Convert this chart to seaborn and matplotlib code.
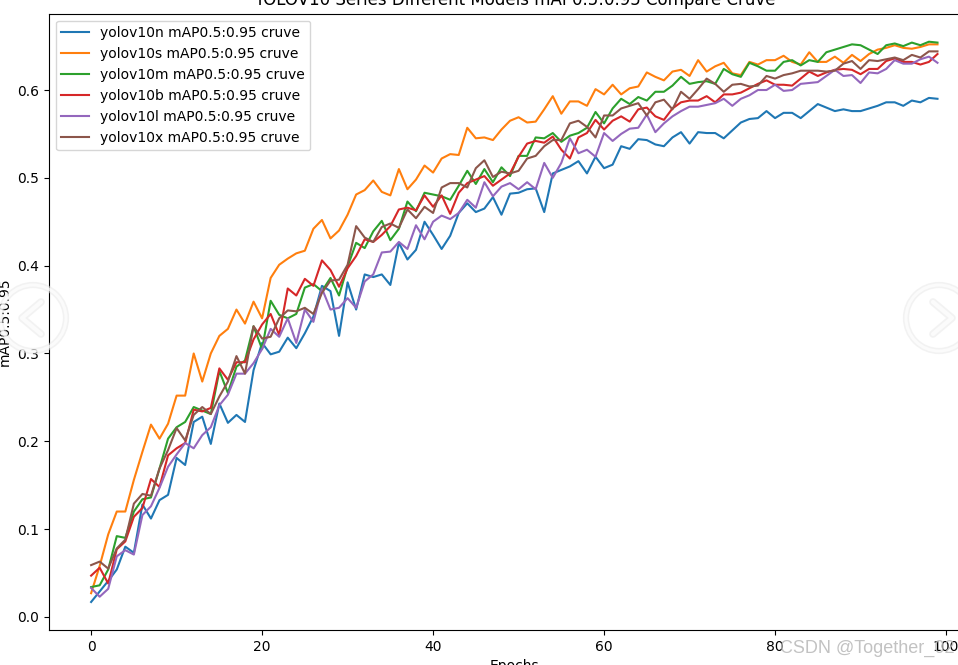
import numpy as np
import matplotlib
matplotlib.use("Agg")
import matplotlib.pyplot as plt
from matplotlib.lines import Line2D
from matplotlib.patches import Circle
import seaborn as sns

yolov10n = [.017, .029, .041, .054, .08, .073, .128, .112, .133, .139,
            .181, .173, .222, .228, .197, .243, .221, .23, .222, .281,
            .312, .299, .302, .318, .306, .323, .342, .377, .371, .32,
            .381, .35, .39, .387, .39, .378, .426, .407, .418, .45,
            .435, .419, .434, .46, .471, .461, .465, .478, .458, .482,
            .483, .487, .488, .461, .505, .509, .513, .519, .505, .524,
            .511, .515, .536, .533, .544, .543, .538, .536, .546, .552,
            .539, .552, .551, .551, .545, .554, .563, .567, .568, .576,
            .568, .574, .574, .568, .576, .584, .58, .576, .578, .576,
            .576, .579, .582, .586, .586, .582, .588, .586, .591, .59]
yolov10s = [.027, .058, .094, .12, .12, .156, .188, .219, .203, .22,
            .252, .252, .30, .268, .30, .32, .328, .35, .334, .359,
            .34, .386, .401, .408, .414, .417, .442, .452, .431, .44,
            .458, .481, .486, .497, .484, .48, .51, .487, .498, .514,
            .506, .522, .527, .526, .557, .545, .546, .543, .555, .565,
            .569, .563, .564, .578, .593, .573, .587, .587, .582, .601,
            .595, .606, .595, .602, .604, .62, .615, .611, .621, .623,
            .616, .634, .621, .627, .631, .619, .617, .632, .629, .634,
            .634, .639, .632, .629, .643, .632, .632, .638, .631, .64,
            .633, .641, .646, .648, .651, .648, .647, .649, .652, .652]
yolov10m = [.034, .036, .054, .092, .09, .12, .134, .136, .169, .203,
            .216, .222, .239, .235, .231, .28, .255, .285, .292, .331,
            .305, .36, .344, .34, .345, .375, .379, .371, .386, .366,
            .399, .426, .42, .439, .451, .429, .442, .473, .462, .483,
            .481, .479, .475, .491, .508, .493, .51, .495, .512, .502,
            .525, .525, .546, .545, .551, .541, .548, .551, .557, .575,
            .562, .579, .59, .584, .592, .588, .598, .598, .605, .615,
            .607, .609, .61, .607, .624, .618, .615, .631, .627, .622,
            .622, .632, .634, .628, .634, .632, .643, .646, .649, .652,
            .651, .646, .641, .651, .653, .65, .654, .651, .655, .654]
yolov10b = [.047, .056, .038, .077, .086, .114, .124, .157, .148, .184,
            .192, .198, .236, .234, .238, .283, .27, .29, .29, .316,
            .333, .345, .321, .374, .366, .385, .377, .406, .395, .376,
            .397, .411, .43, .427, .435, .445, .464, .466, .463, .48,
            .467, .48, .459, .483, .494, .498, .502, .491, .498, .505,
            .524, .539, .542, .54, .547, .532, .522, .546, .551, .566,
            .555, .565, .57, .564, .578, .58, .57, .566, .579, .586,
            .588, .588, .593, .586, .595, .595, .597, .602, .607, .611,
            .606, .606, .605, .613, .621, .616, .62, .623, .624, .623,
            .618, .624, .624, .633, .636, .632, .632, .629, .632, .641]
yolov10l = [.033, .023, .032, .069, .076, .071, .116, .126, .147, .171,
            .185, .198, .192, .207, .216, .241, .253, .277, .277, .289,
            .305, .328, .319, .34, .312, .35, .336, .374, .35, .352,
            .363, .352, .382, .39, .415, .416, .427, .419, .446, .43,
            .45, .457, .453, .46, .475, .466, .495, .479, .49, .494,
            .487, .495, .487, .517, .5, .517, .545, .528, .532, .524,
            .551, .542, .55, .556, .557, .572, .552, .562, .57, .576,
            .581, .581, .583, .585, .59, .582, .59, .594, .6, .6,
            .606, .599, .6, .607, .608, .609, .616, .623, .616, .617,
            .608, .62, .619, .624, .634, .63, .63, .635, .638, .631]
yolov10x = [.059, .063, .055, .078, .088, .129, .14, .138, .169, .19,
            .215, .201, .23, .239, .231, .251, .268, .297, .277, .331,
            .317, .319, .34, .349, .348, .352, .345, .369, .383, .384,
            .401, .445, .432, .427, .444, .448, .443, .464, .454, .467,
            .46, .489, .494, .494, .489, .511, .52, .501, .507, .505,
            .508, .522, .525, .536, .543, .543, .562, .565, .558, .546,
            .571, .571, .579, .582, .585, .571, .586, .589, .578, .598,
            .59, .601, .613, .607, .598, .606, .607, .604, .605, .616,
            .613, .617, .619, .622, .622, .622, .621, .622, .63, .633,
            .624, .634, .633, .635, .637, .634, .64, .637, .644, .644]

model_names = ["yolov10n", "yolov10s", "yolov10m", "yolov10b", "yolov10l", "yolov10x"]
model_maps = [yolov10n, yolov10s, yolov10m, yolov10b, yolov10l, yolov10x]
epochs = np.arange(100)

W, H = 958, 665
fig = plt.figure(figsize=(W / 100, H / 100), dpi=100)
# the reference is cropped, so the axes run past the right edge
ax = fig.add_axes([48.8 / W, (H - 630) / H, 931 / W, 616.3 / H])

colors = sns.color_palette("tab10", 6)
for name, values, color in zip(model_names, model_maps, colors):
    sns.lineplot(x=epochs, y=values, ax=ax, color=color, linewidth=1.5,
                 estimator=None, label=f"{name} mAP0.5:0.95 cruve")

ax.set_title("YOLOV10 Series Different Models mAP0.5:0.95 Compare Cruve")
ax.set_xlabel("Epochs")
ax.set_ylabel("mAP0.5:0.95")
ax.legend(loc="upper left")


# page overlay: carousel arrows and watermark
def px(x, y):
    return x / 100, (H - y) / 100


for cx, tip, back in [(33, 22, 41), (939, 952, 933)]:
    xs, ys = zip(px(back, 302), px(tip, 318), px(back, 334))
    for shade, ring_w, arrow_w, alpha in [("#e6e6e6", 4.5, 5.5, 0.5), ("#ffffff", 2.2, 3, 0.7)]:
        fig.add_artist(Circle(px(cx, 318), 0.33, transform=fig.dpi_scale_trans, fill=False,
                              edgecolor=shade, linewidth=ring_w, alpha=alpha))
        fig.add_artist(Line2D(xs, ys, transform=fig.dpi_scale_trans, color=shade,
                              linewidth=arrow_w, alpha=alpha, solid_capstyle="round",
                              solid_joinstyle="round"))

fig.text(780 / W, (H - 648) / H, "CSDN @Together_02", family="Liberation Sans", fontsize=13,
         color="#b8b8b8", alpha=0.85, va="center")

fig.savefig("out.png", dpi=100)
